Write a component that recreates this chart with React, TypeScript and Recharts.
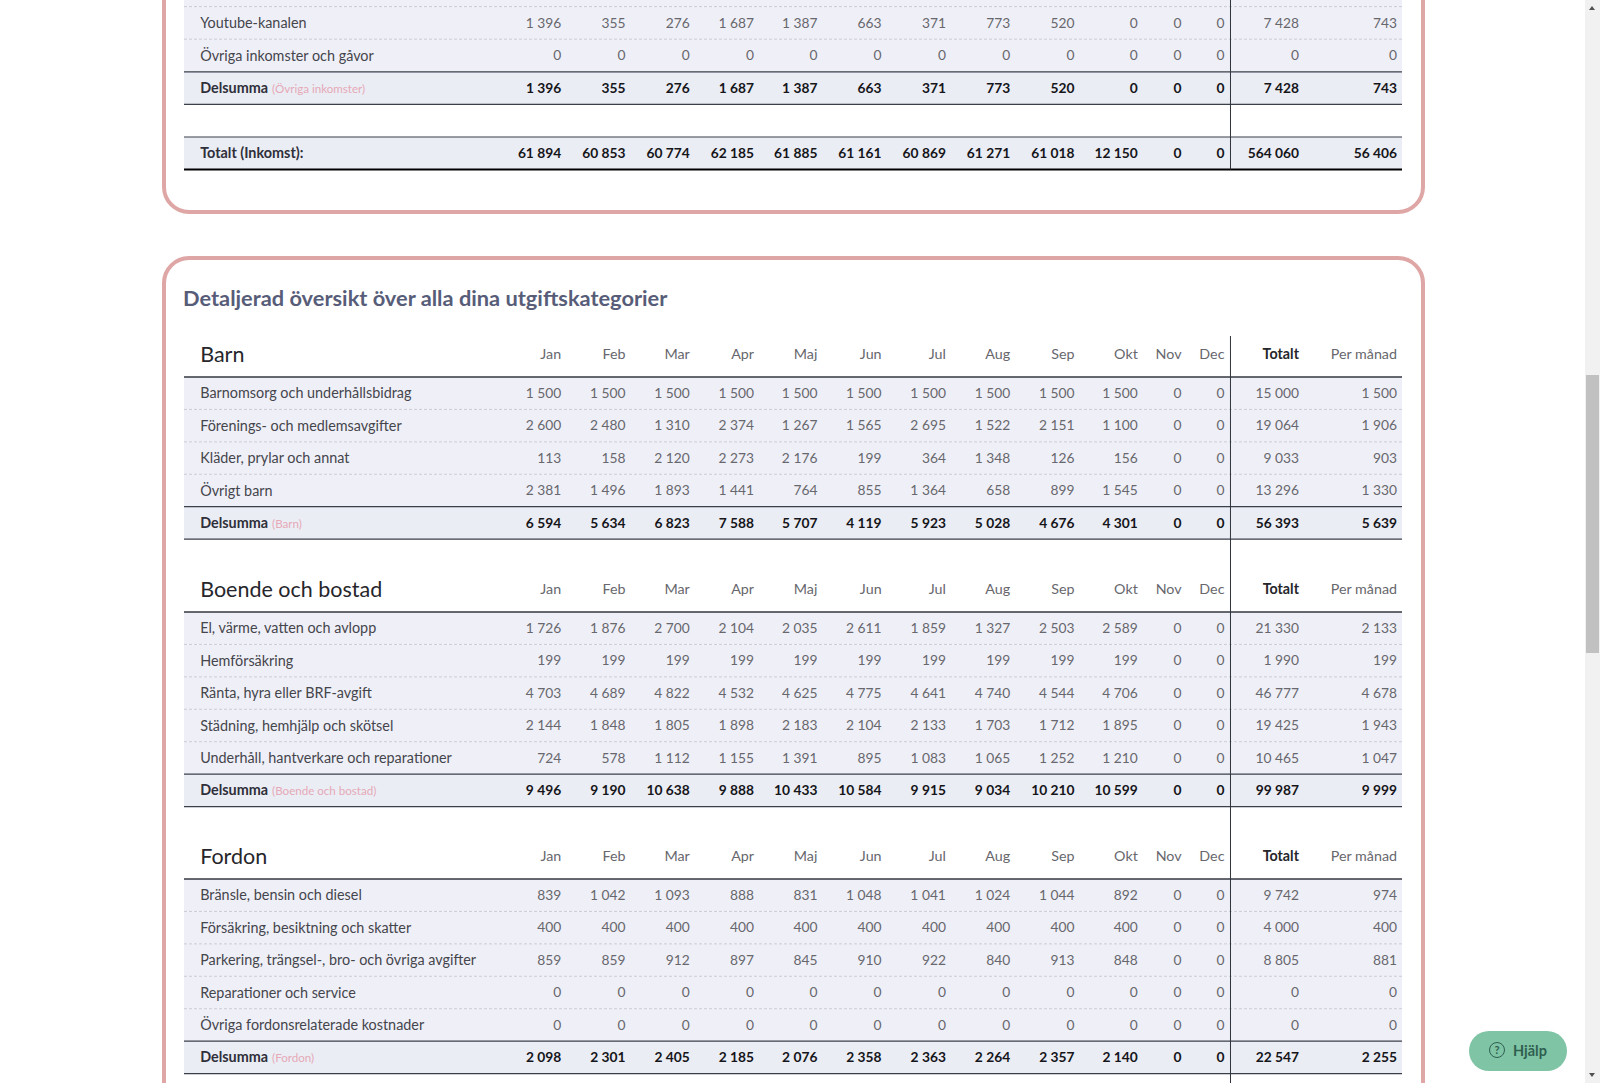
import { ScatterChart, Scatter, XAxis, YAxis, ReferenceArea, ReferenceLine } from "recharts";

const months = ["Jan", "Feb", "Mar", "Apr", "Maj", "Jun", "Jul", "Aug", "Sep", "Okt", "Nov", "Dec"];
const summaryHeads = ["Totalt", "Per månad"];

const youtube = [1396, 355, 276, 1687, 1387, 663, 371, 773, 520, 0, 0, 0, 7428, 743];
const ovrigaInkomster = [0, 0, 0, 0, 0, 0, 0, 0, 0, 0, 0, 0, 0, 0];
const sumInkomster = [1396, 355, 276, 1687, 1387, 663, 371, 773, 520, 0, 0, 0, 7428, 743];
const totaltInkomst = [61894, 60853, 60774, 62185, 61885, 61161, 60869, 61271, 61018, 12150, 0, 0, 564060, 56406];

const barnomsorg = [1500, 1500, 1500, 1500, 1500, 1500, 1500, 1500, 1500, 1500, 0, 0, 15000, 1500];
const forenings = [2600, 2480, 1310, 2374, 1267, 1565, 2695, 1522, 2151, 1100, 0, 0, 19064, 1906];
const klader = [113, 158, 2120, 2273, 2176, 199, 364, 1348, 126, 156, 0, 0, 9033, 903];
const ovrigtBarn = [2381, 1496, 1893, 1441, 764, 855, 1364, 658, 899, 1545, 0, 0, 13296, 1330];
const sumBarn = [6594, 5634, 6823, 7588, 5707, 4119, 5923, 5028, 4676, 4301, 0, 0, 56393, 5639];

const elVarme = [1726, 1876, 2700, 2104, 2035, 2611, 1859, 1327, 2503, 2589, 0, 0, 21330, 2133];
const hemforsakring = [199, 199, 199, 199, 199, 199, 199, 199, 199, 199, 0, 0, 1990, 199];
const ranta = [4703, 4689, 4822, 4532, 4625, 4775, 4641, 4740, 4544, 4706, 0, 0, 46777, 4678];
const stadning = [2144, 1848, 1805, 1898, 2183, 2104, 2133, 1703, 1712, 1895, 0, 0, 19425, 1943];
const underhall = [724, 578, 1112, 1155, 1391, 895, 1083, 1065, 1252, 1210, 0, 0, 10465, 1047];
const sumBoende = [9496, 9190, 10638, 9888, 10433, 10584, 9915, 9034, 10210, 10599, 0, 0, 99987, 9999];

const bransle = [839, 1042, 1093, 888, 831, 1048, 1041, 1024, 1044, 892, 0, 0, 9742, 974];
const forsakring = [400, 400, 400, 400, 400, 400, 400, 400, 400, 400, 0, 0, 4000, 400];
const parkering = [859, 859, 912, 897, 845, 910, 922, 840, 913, 848, 0, 0, 8805, 881];
const reparationer = [0, 0, 0, 0, 0, 0, 0, 0, 0, 0, 0, 0, 0, 0];
const ovrigaFordon = [0, 0, 0, 0, 0, 0, 0, 0, 0, 0, 0, 0, 0, 0];
const sumFordon = [2098, 2301, 2405, 2185, 2076, 2358, 2363, 2264, 2357, 2140, 0, 0, 22547, 2255];

const inkomstRows = [
  { name: "cropped", kind: "blankBand" },
  { name: "Youtube-kanalen", kind: "item", values: youtube },
  { name: "Övriga inkomster och gåvor", kind: "last", values: ovrigaInkomster },
  { name: "Delsumma", note: "(Övriga inkomster)", kind: "sum", values: sumInkomster },
  { name: "spacer", kind: "gap", line: true },
  { name: "Totalt (Inkomst):", kind: "total", values: totaltInkomst },
];
const barnRows = [
  { name: "Barnomsorg och underhållsbidrag", kind: "item", values: barnomsorg },
  { name: "Förenings- och medlemsavgifter", kind: "item", values: forenings },
  { name: "Kläder, prylar och annat", kind: "item", values: klader },
  { name: "Övrigt barn", kind: "last", values: ovrigtBarn },
  { name: "Delsumma", note: "(Barn)", kind: "sum", values: sumBarn },
];
const boendeRows = [
  { name: "El, värme, vatten och avlopp", kind: "item", values: elVarme },
  { name: "Hemförsäkring", kind: "item", values: hemforsakring },
  { name: "Ränta, hyra eller BRF-avgift", kind: "item", values: ranta },
  { name: "Städning, hemhjälp och skötsel", kind: "item", values: stadning },
  { name: "Underhåll, hantverkare och reparationer", kind: "last", values: underhall },
  { name: "Delsumma", note: "(Boende och bostad)", kind: "sum", values: sumBoende },
];
const fordonRows = [
  { name: "Bränsle, bensin och diesel", kind: "item", values: bransle },
  { name: "Försäkring, besiktning och skatter", kind: "item", values: forsakring },
  { name: "Parkering, trängsel-, bro- och övriga avgifter", kind: "item", values: parkering },
  { name: "Reparationer och service", kind: "item", values: reparationer },
  { name: "Övriga fordonsrelaterade kostnader", kind: "last", values: ovrigaFordon },
  { name: "Delsumma", note: "(Fordon)", kind: "sum", values: sumFordon },
  { name: "next", kind: "gap" },
];

// layout of the table, page pixels
const tableLeft = 184;
const tableRight = 1402;
const columnRight = [561.2, 625.5, 689.8, 754, 817.4, 881.6, 945.9, 1010.2, 1074.5, 1137.8, 1181.6, 1224.5, 1299, 1397];
const dividerX = 1230.5;
const nameX = 200.2;
const FONT = "Lato, 'Noto Sans', sans-serif";

const fmt = (v: number) => String(v).replace(/\B(?=(\d{3})+$)/g, " ");

function cellsFor(rows: any[]) {
  return rows.flatMap((r) => {
    if (!r.values) return [{ col: tableRight, row: r.name, text: "", bold: false }];
    return r.values.map((v: number, c: number) => ({
      col: columnRight[c],
      row: r.name,
      text: fmt(v),
      bold: r.kind === "sum" || r.kind === "total",
    }));
  });
}

function namesFor(rows: any[]) {
  return rows.filter((r) => r.values).map((r) => ({ col: nameX, row: r.name, note: r.note, strong: r.kind === "sum" || r.kind === "total" }));
}

function CellText(props: any) {
  const { cx, cy, payload } = props;
  if (!payload.text) return <g />;
  return (
    <text
      x={cx}
      y={cy}
      dy="0.35em"
      textAnchor="end"
      fontFamily={FONT}
      fontSize={13.8}
      fontWeight={payload.bold ? 700 : 400}
      fill={payload.bold ? "#15151a" : "#67676d"}
    >
      {payload.text}
    </text>
  );
}

function RowName(props: any) {
  const { cx, cy, payload } = props;
  return (
    <text x={cx} y={cy} dy="0.35em" fontFamily={FONT} fontSize={14.4} fontWeight={payload.strong ? 700 : 400} fill={payload.strong ? "#2f2f3a" : "#45454c"}>
      {payload.row}
      {payload.note ? (
        <tspan dx={4} fontSize={11.6} fontWeight={400} fill="#e5a9b7">
          {payload.note}
        </tspan>
      ) : null}
    </text>
  );
}

function TableBlock({ title, rows, top, headH, rowH }: { title?: string; rows: any[]; top: number; headH: number; rowH: number }) {
  const ticks = title ? [nameX, ...columnRight, dividerX] : [];
  const heads = [...months, ...summaryHeads];

  const headTick = (p: any) => {
    const pos = p.payload.value;
    const textY = headH - 23;
    if (pos === dividerX) return <line x1={p.x} x2={p.x} y1={0} y2={headH} stroke="#2f333b" strokeWidth={1} />;
    if (pos === nameX)
      return (
        <text x={p.x} y={textY} dy="0.35em" fontFamily={FONT} fontSize={21.5} fill="#26262b">
          {title}
        </text>
      );
    const i = columnRight.indexOf(pos);
    const isTotal = i === 12;
    return (
      <text x={p.x} y={textY} dy="0.35em" textAnchor="end" fontFamily={FONT} fontSize={14.3} fontWeight={isTotal ? 700 : 400} fill={isTotal ? "#26262b" : "#67676d"}>
        {heads[i]}
      </text>
    );
  };

  return (
    <div style={{ position: "absolute", left: tableLeft, top }}>
      <ScatterChart
        width={tableRight - tableLeft}
        height={headH + rows.length * rowH + 4}
        margin={{ top: 0, right: 0, bottom: 4, left: 0 }}
      >
        <XAxis
          xAxisId={0}
          type="number"
          dataKey="col"
          orientation="top"
          domain={[tableLeft, tableRight]}
          ticks={ticks}
          interval={0}
          height={headH}
          hide={!title}
          axisLine={false}
          tickLine={false}
          tick={headTick}
        />
        <YAxis
          yAxisId={0}
          type="category"
          scale="band"
          dataKey="row"
          mirror
          reversed
          width={0}
          interval={0}
          allowDuplicatedCategory={false}
          axisLine={false}
          tickLine={false}
          tick={false}
        />
        {rows
          .filter((r) => r.kind !== "gap")
          .map((r) => (
            <ReferenceArea
              key={"band-" + r.name}
              y1={r.name}
              y2={r.name}
              fill={r.kind === "sum" || r.kind === "total" ? "#ebedf4" : "#eff0f7"}
              fillOpacity={1}
              strokeWidth={0}
              ifOverflow="visible"
            />
          ))}
        {title ? <ReferenceLine y={rows[0].name} position="start" stroke="#33373f" strokeWidth={1.4} ifOverflow="visible" /> : null}
        {rows
          .filter((r) => r.kind !== "gap" || r.line)
          .map((r) => (
            <ReferenceLine
              key={"line-" + r.name}
              y={r.name}
              position="end"
              ifOverflow="visible"
              stroke={r.kind === "item" || r.kind === "blankBand" ? "#c9cbd6" : r.kind === "total" ? "#000" : "#3a3f4a"}
              strokeDasharray={r.kind === "item" || r.kind === "blankBand" ? "3 2" : undefined}
              strokeWidth={r.kind === "total" ? 2 : r.kind === "item" || r.kind === "blankBand" ? 1 : 1.2}
            />
          ))}
        <ReferenceLine x={dividerX} stroke="#2f333b" strokeWidth={1} />
        <Scatter data={cellsFor(rows)} shape={CellText} isAnimationActive={false} />
        <Scatter data={namesFor(rows)} shape={RowName} isAnimationActive={false} />
      </ScatterChart>
    </div>
  );
}

const triangle = (dir: "up" | "down", top: number) => (
  <div
    style={{
      position: "absolute",
      left: 1589,
      top,
      width: 0,
      height: 0,
      borderLeft: "3.5px solid transparent",
      borderRight: "3.5px solid transparent",
      [dir === "up" ? "borderBottom" : "borderTop"]: "4px solid #505050",
    }}
  />
);

export default function App() {
  const card = { position: "absolute", left: 161.5, width: 1263, boxSizing: "border-box", border: "4px solid #dfa6a6", borderRadius: 27 } as const;
  return (
    <div style={{ position: "fixed", left: 0, top: 0, width: 1600, height: 1083, overflow: "hidden", background: "#fff", fontFamily: FONT }}>
      <div style={{ ...card, top: -100, height: 313.5 }} />
      <div style={{ ...card, top: 256, height: 1000 }} />

      <div style={{ position: "absolute", left: 183, top: 283, fontSize: 21.8, lineHeight: "30px", fontWeight: 700, color: "#575d79" }}>
        Detaljerad översikt över alla dina utgiftskategorier
      </div>

      <TableBlock rows={inkomstRows} top={-25.6} headH={0} rowH={32.6} />
      <TableBlock title="Barn" rows={barnRows} top={335.7} headH={41} rowH={32.43} />
      <TableBlock title="Boende och bostad" rows={boendeRows} top={538.7} headH={73} rowH={32.43} />
      <TableBlock title="Fordon" rows={fordonRows} top={806.1} headH={73} rowH={32.43} />

      <div style={{ position: "absolute", left: 1585, top: 0, width: 15, height: 1083, background: "#f1f1f1" }} />
      <div style={{ position: "absolute", left: 1586, top: 375, width: 13, height: 278, background: "#c1c1c1" }} />
      {triangle("up", 6)}
      {triangle("down", 1073)}

      <div style={{ position: "absolute", left: 1469, top: 1030.5, width: 98, height: 40, borderRadius: 20, background: "#7fc4a4", color: "#2f5f50", fontSize: 14.5, fontWeight: 700, lineHeight: "40px" }}>
        <span style={{ position: "absolute", left: 20, top: 11.5, width: 14, height: 14, border: "1.6px solid #2f5f50", borderRadius: "50%", lineHeight: "14px", textAlign: "center", fontSize: 11 }}>?</span>
        <span style={{ position: "absolute", left: 44 }}>Hjälp</span>
      </div>
    </div>
  );
}
